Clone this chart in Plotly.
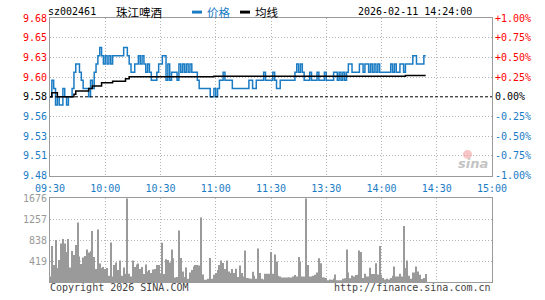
import plotly.graph_objects as go

# ---------------- data ----------------
stock_code = "sz002461"
stock_name = "珠江啤酒"
timestamp = "2026-02-11 14:24:00"
prev_close = 9.58

time_labels = ["09:30", "10:00", "10:30", "11:00", "11:30", "13:30", "14:00", "14:30", "15:00"]
time_ticks = [0, 30, 60, 90, 120, 150, 180, 210, 240]

price_labels = ["9.48", "9.51", "9.53", "9.56", "9.58", "9.60", "9.63", "9.65", "9.68"]
pct_ticks = [-1.0, -0.75, -0.5, -0.25, 0.0, 0.25, 0.5, 0.75, 1.0]
pct_labels = ["-1.00%", "-0.75%", "-0.50%", "-0.25%", "0.00%", "+0.25%", "+0.50%", "+0.75%", "+1.00%"]

vol_ticks = [419, 838, 1257, 1676]
vol_labels = ["419", "838", "1257", "1676"]

# minute-by-minute price (09:30 .. 14:24)
price = [
    9.58, 9.60, 9.59, 9.57, 9.58, 9.57, 9.57, 9.59, 9.58, 9.57,
    9.58, 9.58, 9.59, 9.61, 9.62, 9.62, 9.61, 9.60, 9.59, 9.59,
    9.59, 9.58, 9.60, 9.59, 9.61, 9.62, 9.63, 9.64, 9.63, 9.62,
    9.63, 9.62, 9.63, 9.62, 9.63, 9.63, 9.63, 9.63, 9.63, 9.63,
    9.64, 9.64, 9.63, 9.62, 9.61, 9.61, 9.62, 9.62, 9.63, 9.62,
    9.63, 9.62, 9.61, 9.62, 9.61, 9.60, 9.60, 9.60, 9.61, 9.62,
    9.62, 9.63, 9.63, 9.60, 9.62, 9.60, 9.61, 9.61, 9.61, 9.60,
    9.62, 9.61, 9.62, 9.61, 9.62, 9.61, 9.62, 9.61, 9.61, 9.61,
    9.60, 9.59, 9.59, 9.59, 9.59, 9.59, 9.59, 9.58, 9.58, 9.59,
    9.58, 9.59, 9.60, 9.60, 9.61, 9.60, 9.60, 9.60, 9.60, 9.59,
    9.59, 9.59, 9.59, 9.59, 9.59, 9.59, 9.59, 9.59, 9.60, 9.60,
    9.59, 9.59, 9.60, 9.60, 9.60, 9.60, 9.61, 9.60, 9.60, 9.60,
    9.60, 9.61, 9.60, 9.59, 9.59, 9.60, 9.60, 9.60, 9.60, 9.60,
    9.60, 9.60, 9.60, 9.61, 9.62, 9.61, 9.62, 9.61, 9.60, 9.60,
    9.60, 9.61, 9.60, 9.60, 9.60, 9.61, 9.60, 9.60, 9.60, 9.61,
    9.60, 9.60, 9.60, 9.60, 9.61, 9.61, 9.60, 9.61, 9.60, 9.61,
    9.60, 9.61, 9.62, 9.62, 9.61, 9.61, 9.61, 9.61, 9.62, 9.62,
    9.61, 9.62, 9.62, 9.61, 9.62, 9.61, 9.62, 9.61, 9.62, 9.61,
    9.61, 9.61, 9.61, 9.61, 9.61, 9.62, 9.61, 9.62, 9.61, 9.61,
    9.62, 9.62, 9.61, 9.62, 9.62, 9.62, 9.62, 9.63, 9.63, 9.62,
    9.62, 9.62, 9.62, 9.63, 9.63,
]

# average-price line as (value, number of minutes) runs
avg_values = [9.580, 9.585, 9.580, 9.583, 9.587, 9.590, 9.593, 9.597, 9.599, 9.602, 9.6045, 9.605, 9.606]
avg_counts = [1, 3, 9, 1, 7, 2, 5, 6, 7, 2, 46, 104, 12]

# minute volume
volume = [
    110, 720, 340, 840, 280, 440, 770, 860, 770, 600,
    860, 290, 620, 540, 740, 1190, 510, 360, 490, 520,
    650, 590, 620, 1020, 500, 260, 1050, 370, 280, 300,
    260, 280, 125, 790, 110, 340, 390, 240, 430, 125,
    290, 165, 1676, 165, 110, 430, 300, 350, 370, 260,
    300, 160, 350, 210, 240, 180, 250, 260, 340, 340,
    160, 785, 160, 455, 440, 390, 650, 475, 90, 100,
    1030, 480, 210, 100, 290, 66, 190, 240, 310, 340,
    340, 330, 1290, 150, 46, 46, 66, 480, 66, 145,
    180, 240, 340, 430, 380, 260, 430, 210, 180, 260,
    180, 265, 100, 330, 180, 110, 630, 80, 73, 66,
    205, 125, 66, 670, 180, 66, 50, 165, 165, 165,
    600, 165, 550, 410, 125,
    110, 90, 90, 90, 90, 90, 90, 110, 140, 110,
    500, 410, 110, 110, 1676, 340, 110, 110, 125, 145,
    190, 475, 375, 90, 90, 80, 30, 50, 45, 70,
    150, 30, 30, 30, 66, 73, 650, 190, 73, 130,
    110, 140, 145, 630, 600, 80, 165, 110, 110, 285,
    160, 160, 375, 150, 720, 145, 80, 50, 66, 50,
    80, 125, 310, 110, 110, 165, 110, 1120, 280, 430,
    125, 66, 190, 190, 310, 210, 145, 60, 80, 160,
]

minutes = list(range(len(price)))
avg_line = []
for v, c in zip(avg_values, avg_counts):
    avg_line.extend([v] * c)

# ---------------- style ----------------
BLUE = "#1a7cc4"
RED = "#ff0000"
GRID = "#b4b4b4"
BORDER = "#9a9a9a"
MONO = "DejaVu Sans Mono"
CJK = "Noto Sans CJK SC"

W, H = 545, 300
ML, MR, MT, MB = 50, 53, 18, 14
PW, PH = W - ML - MR, H - MT - MB


def px_x(px):
    return (px - ML) / PW


def px_y(py):
    return (H - MB - py) / PH


price_dom = [px_y(178), 1.0]
vol_dom = [0.0, px_y(201)]


def col_for(p):
    if p > 0:
        return RED
    if p < 0:
        return BLUE
    return "#000000"


left_vals = [prev_close * (1 + p / 100) for p in pct_ticks]
left_text = [f'<span style="color:{col_for(p)}">{t}</span>' for p, t in zip(pct_ticks, price_labels)]
right_text = [f'<span style="color:{col_for(p)}">{t}</span>' for p, t in zip(pct_ticks, pct_labels)]
minor_vals = [prev_close * (1 + p / 100) for p in pct_ticks if p not in (0.0, -1.0, 1.0)]

fig = go.Figure()
fig.add_trace(go.Bar(x=minutes, y=volume, width=0.55, marker=dict(color="#9a9a9a", line=dict(width=0)),
                     xaxis="x2", yaxis="y3", hoverinfo="skip"))
fig.add_trace(go.Scatter(x=minutes, y=[(p / prev_close - 1) * 100 for p in price], mode="lines",
                         line=dict(color="rgba(0,0,0,0)", width=0), xaxis="x", yaxis="y2", hoverinfo="skip"))
fig.add_trace(go.Scatter(x=minutes, y=price, mode="lines", line=dict(color=BLUE, width=1.5, shape="hv"),
                         xaxis="x", yaxis="y"))
fig.add_trace(go.Scatter(x=minutes, y=avg_line, mode="lines", line=dict(color="#000000", width=1.5, shape="hv"),
                         xaxis="x", yaxis="y"))

axis_common = dict(showline=True, mirror=True, linecolor=BORDER, linewidth=1, zeroline=False, ticks="",
                   fixedrange=True)

fig.update_layout(
    width=W, height=H,
    margin=dict(l=ML, r=MR, t=MT, b=MB, pad=0),
    paper_bgcolor="white", plot_bgcolor="white",
    showlegend=False,
    font=dict(family=MONO, size=10, color="#000"),
    xaxis=dict(domain=[0, 1], anchor="y", range=[0, 240], tickmode="array", tickvals=time_ticks,
               ticktext=time_labels, tickfont=dict(family=MONO, size=10, color=BLUE),
               showgrid=True, gridcolor=GRID, gridwidth=1, griddash="1px,2px", ticklabelstandoff=3,
               **axis_common),
    yaxis=dict(domain=price_dom, anchor="x", range=[prev_close * 0.99, prev_close * 1.01], tickmode="array",
               tickvals=left_vals, ticktext=left_text, tickfont=dict(family=MONO, size=10),
               showgrid=False,
               minor=dict(tickmode="array", tickvals=minor_vals, showgrid=True, gridcolor=GRID,
                          griddash="1px,2px", gridwidth=1, ticks=""),
               **axis_common),
    yaxis2=dict(overlaying="y", side="right", anchor="x", range=[-1, 1], tickmode="array",
                tickvals=pct_ticks, ticktext=right_text, tickfont=dict(family=MONO, size=10),
                showgrid=False, showline=False, zeroline=False, ticks="", fixedrange=True,
                ticklabelstandoff=2),
    xaxis2=dict(domain=[0, 1], anchor="y3", range=[0, 240], tickmode="array", tickvals=time_ticks,
                showticklabels=False, showgrid=True, gridcolor=GRID, gridwidth=1, griddash="1px,2px",
                **axis_common),
    yaxis3=dict(domain=vol_dom, anchor="x2", range=[0, 1676], tickmode="array", tickvals=vol_ticks,
                ticktext=vol_labels, tickfont=dict(family=MONO, size=10, color="#999999"),
                showgrid=True, gridcolor=GRID, gridwidth=1, griddash="1px,2px", **axis_common),
)

# previous close dashed line
fig.add_shape(type="line", xref="x domain", yref="y", x0=0, x1=1, y0=prev_close, y1=prev_close,
              line=dict(color="#000000", width=1, dash="3px,2px"))

# header legend marks
fig.add_shape(type="rect", xref="paper", yref="paper", x0=px_x(192), x1=px_x(202), y0=px_y(13.5), y1=px_y(10.5),
              fillcolor=BLUE, line=dict(width=0))
fig.add_shape(type="rect", xref="paper", yref="paper", x0=px_x(240), x1=px_x(250), y0=px_y(13.5), y1=px_y(10.5),
              fillcolor="#000000", line=dict(width=0))

# sina watermark eye
fig.add_shape(type="circle", xref="paper", yref="paper", x0=px_x(463), x1=px_x(472), y0=px_y(161), y1=px_y(152),
              fillcolor="rgba(240,150,150,0.55)", line=dict(width=0))

hy = px_y(11.5)
anns = [
    dict(text=stock_code, x=px_x(46), y=hy, xanchor="left", font=dict(family=MONO, size=10, color="#000")),
    dict(text=stock_name, x=px_x(114), y=hy, xanchor="left", font=dict(family=CJK, size=11.5, color="#000")),
    dict(text="价格", x=px_x(205), y=hy, xanchor="left", font=dict(family=CJK, size=11.5, color=BLUE)),
    dict(text="均线", x=px_x(253), y=hy, xanchor="left", font=dict(family=CJK, size=11.5, color="#000")),
    dict(text=timestamp, x=px_x(474), y=hy, xanchor="right", font=dict(family=MONO, size=10, color="#000")),
    dict(text="Copyright 2026 SINA.COM", x=px_x(48), y=px_y(292), xanchor="left",
         font=dict(family=MONO, size=10, color="#444")),
    dict(text="http://finance.sina.com.cn", x=px_x(493), y=px_y(292), xanchor="right",
         font=dict(family=MONO, size=10, color="#444")),
    dict(text="<b><i>sina</i></b>", x=px_x(473), y=px_y(166), xanchor="center",
         font=dict(family="DejaVu Sans", size=13, color="#c4c4c4")),
]
for a in anns:
    fig.add_annotation(xref="paper", yref="paper", showarrow=False, yanchor="middle", **a)

fig.write_html("out.html")
